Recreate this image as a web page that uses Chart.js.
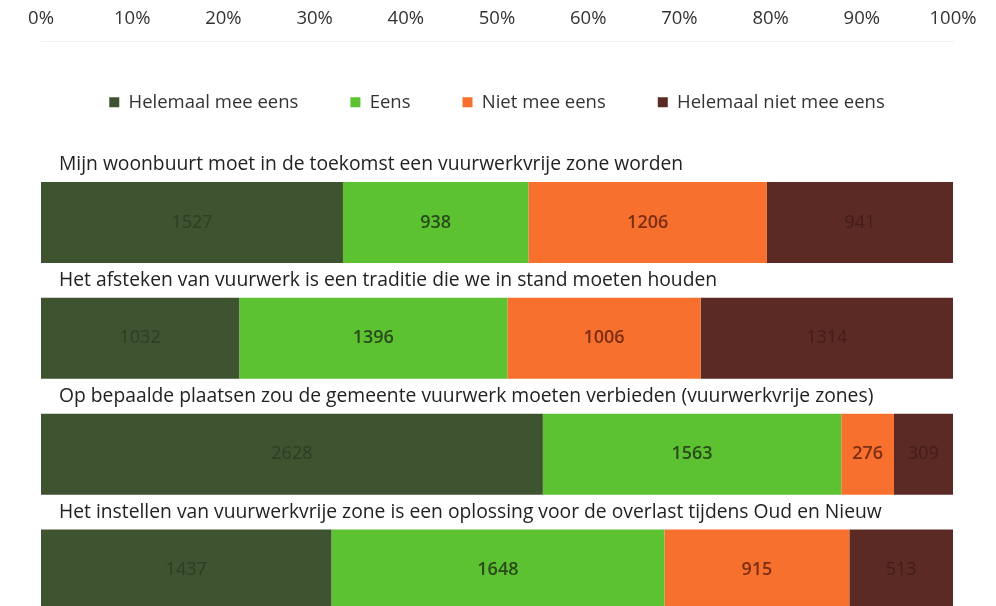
<!DOCTYPE html>
<html>
<head>
<meta charset="utf-8">
<script src="https://cdn.jsdelivr.net/npm/chart.js@4.4.1/dist/chart.umd.min.js"></script>
<style>
    html, body { margin: 0; padding: 0; background: #fff; overflow: hidden; }
    .chart-wrap { width: 996px; height: 640px; }
</style>
</head>
<body>
<div class="chart-wrap"><canvas id="chart__vuurwerk"></canvas></div>
<script>
const statements = [
    'Mijn woonbuurt moet in de toekomst een vuurwerkvrije zone worden',
    'Het afsteken van vuurwerk is een traditie die we in stand moeten houden',
    'Op bepaalde plaatsen zou de gemeente vuurwerk moeten verbieden (vuurwerkvrije zones)',
    'Het instellen van vuurwerkvrije zone is een oplossing voor de overlast tijdens Oud en Nieuw'
];
const seriesNames = ['Helemaal mee eens', 'Eens', 'Niet mee eens', 'Helemaal niet mee eens'];
const helemaalMeeEens = [1527, 1032, 2628, 1437];
const eens = [938, 1396, 1563, 1648];
const nietMeeEens = [1206, 1006, 276, 915];
const helemaalNietMeeEens = [941, 1314, 309, 513];
const tickValues = [0, 10, 20, 30, 40, 50, 60, 70, 80, 90, 100];

const FONT = '"Open Sans", sans-serif';
const series = [helemaalMeeEens, eens, nietMeeEens, helemaalNietMeeEens];
const fills = ['#3e5330', '#5cc232', '#f8702e', '#5c2a24'];
const textColors = ['#2e3d25', '#2a4a1a', '#7a2e14', '#421d19'];
const textWeights = ['normal', '600', '600', 'normal'];

const totals = statements.map((s, j) => series.reduce((sum, arr) => sum + arr[j], 0));

// extra room under the legend, before the first bar
const legendSpacing = {
    id: 'legendSpacing',
    beforeInit(chart) {
        const fit = chart.legend.fit;
        chart.legend.fit = function () {
            fit.call(this);
            this.height += 43;
        };
    }
};

const statementTitles = {
    id: 'statementTitles',
    afterDatasetsDraw(chart) {
        const ctx = chart.ctx;
        const meta = chart.getDatasetMeta(0);
        ctx.save();
        ctx.font = '19.3px ' + FONT;
        ctx.fillStyle = '#222';
        ctx.textAlign = 'left';
        ctx.textBaseline = 'middle';
        meta.data.forEach((bar, j) => {
            ctx.fillText(statements[j], chart.chartArea.left + 18, bar.y - bar.height / 2 - 17);
        });
        ctx.restore();
    }
};

const segmentLabels = {
    id: 'segmentLabels',
    afterDatasetsDraw(chart) {
        const ctx = chart.ctx;
        ctx.save();
        ctx.textAlign = 'center';
        ctx.textBaseline = 'middle';
        chart.data.datasets.forEach((ds, i) => {
            ctx.font = textWeights[i] + ' 18px ' + FONT;
            ctx.fillStyle = textColors[i];
            chart.getDatasetMeta(i).data.forEach((bar, j) => {
                ctx.fillText(series[i][j], (bar.x + bar.base) / 2, bar.y);
            });
        });
        ctx.restore();
    }
};

new Chart(document.getElementById('chart__vuurwerk'), {
    type: 'bar',
    data: {
        labels: statements,
        datasets: seriesNames.map((name, i) => ({
            label: name,
            data: series[i].map((v, j) => v / totals[j] * 100),
            backgroundColor: fills[i],
            borderWidth: 0,
            barPercentage: 0.7,
            categoryPercentage: 1
        }))
    },
    options: {
        indexAxis: 'y',
        responsive: true,
        maintainAspectRatio: false,
        animation: false,
        layout: { padding: { left: 41, right: 43, top: 0, bottom: 12 } },
        scales: {
            x: {
                position: 'top',
                weight: 2000,
                stacked: true,
                min: 0,
                max: 100,
                afterBuildTicks: scale => {
                    scale.ticks = tickValues.map(v => ({ value: v }));
                },
                afterFit: scale => {
                    scale.height = 41;
                },
                grid: { display: false, drawTicks: false },
                border: { display: true, color: 'rgba(0,0,0,0.05)' },
                ticks: {
                    padding: 11,
                    color: '#333',
                    font: { family: FONT, size: 18.5 },
                    callback: v => v + '%'
                }
            },
            y: {
                stacked: true,
                display: false
            }
        },
        plugins: {
            legend: {
                position: 'top',
                labels: {
                    boxWidth: 10,
                    boxHeight: 10,
                    padding: 52,
                    color: '#333',
                    font: { family: FONT, size: 18.5 }
                }
            },
            tooltip: { enabled: false }
        }
    },
    plugins: [legendSpacing, statementTitles, segmentLabels]
});
</script>
</body>
</html>
